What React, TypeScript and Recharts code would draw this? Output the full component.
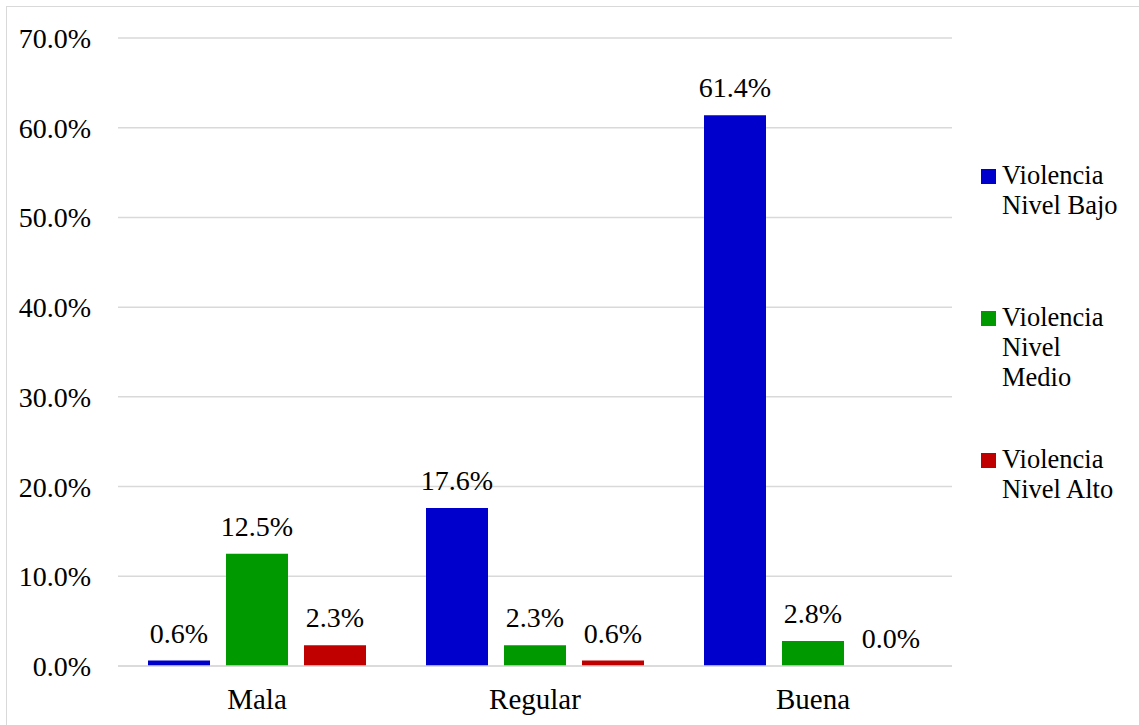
import React from "react";
import { BarChart, Bar, XAxis, YAxis, CartesianGrid, LabelList } from "recharts";

const categories = ["Mala", "Regular", "Buena"];
const bajo = [0.6, 17.6, 61.4];
const medio = [12.5, 2.3, 2.8];
const alto = [2.3, 0.6, 0.0];
const yTicks = [0, 10, 20, 30, 40, 50, 60, 70];

const seriesNames = ["Violencia Nivel Bajo", "Violencia Nivel Medio", "Violencia Nivel Alto"];
const seriesKeys = ["bajo", "medio", "alto"];
const seriesColors = ["#0000CC", "#009900", "#C00000"];
const legendLines = [["Violencia", "Nivel Bajo"], ["Violencia", "Nivel", "Medio"], ["Violencia", "Nivel Alto"]];

const data = categories.map((c, i) => ({ name: c, bajo: bajo[i], medio: medio[i], alto: alto[i] }));

const FONT = '"Liberation Serif"';
const FS = 28;
const fmt = (v: any) => `${Number(v).toFixed(1)}%`;

export default function App() {
  return (
    <div style={{ position: "absolute", left: 6, top: 6, width: 1140, height: 730, border: "1px solid #d9d9d9", background: "#fff", fontFamily: FONT }}>
      <BarChart
        width={1133}
        height={719}
        data={data}
        margin={{ top: 31, right: 188, left: 0, bottom: 0 }}
        barCategoryGap={30}
        barGap={16}
      >
        <CartesianGrid vertical={false} stroke="#d9d9d9" strokeWidth={1.5} />
        <XAxis
          dataKey="name"
          height={60}
          tickSize={0}
          tickMargin={22}
          axisLine={{ stroke: "#d9d9d9", strokeWidth: 1.5 }}
          tick={{ fill: "#000", fontSize: 29, fontFamily: FONT }}
        />
        <YAxis
          width={111}
          domain={[0, 70]}
          ticks={yTicks}
          tickFormatter={fmt}
          tickSize={0}
          tickMargin={27}
          axisLine={false}
          tick={{ fill: "#000", fontSize: FS, fontFamily: FONT }}
        />
        {seriesKeys.map((k, i) => (
          <Bar key={k} dataKey={k} name={seriesNames[i]} fill={seriesColors[i]} minPointSize={0.01} isAnimationActive={false}>
            <LabelList dataKey={k} position="top" offset={18} formatter={fmt} style={{ fill: "#000", fontSize: FS, fontFamily: FONT }} />
          </Bar>
        ))}
      </BarChart>
      <div style={{ position: "absolute", left: 974, top: 153, fontSize: 26.5, color: "#000" }}>
        {seriesKeys.map((k, i) => (
          <div key={k} style={{ position: "absolute", left: 0, top: [0, 142, 284][i], display: "flex" }}>
            <div style={{ width: 15, height: 15, background: seriesColors[i], marginTop: 9, marginRight: 6, flex: "none" }} />
            <div style={{ lineHeight: "30px", whiteSpace: "nowrap" }}>
              {legendLines[i].map((l, j) => (
                <div key={j}>{l}</div>
              ))}
            </div>
          </div>
        ))}
      </div>
    </div>
  );
}
